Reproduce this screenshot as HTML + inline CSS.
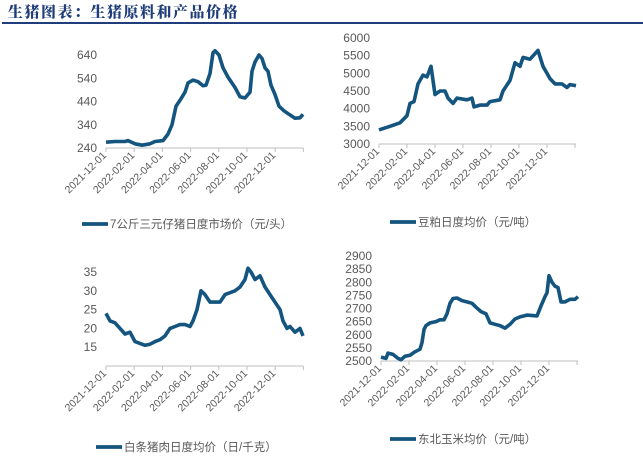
<!DOCTYPE html>
<html><head><meta charset="utf-8"><style>
body{margin:0;background:#fff;width:643px;height:456px;overflow:hidden}
svg text{font-family:"Liberation Sans","Noto Sans CJK SC",sans-serif;fill:#595959}
</style></head><body>
<svg id="s" width="643" height="456" xmlns="http://www.w3.org/2000/svg">
<text x="8" y="17" style="font-family:'Noto Serif CJK SC','Noto Sans CJK SC',serif;font-size:15px;font-weight:900;fill:#1f3d7a;letter-spacing:1.5px">生猪图表：生猪原料和产品价格</text>
<rect x="2" y="22" width="641" height="2" fill="#1f3d7a"/>
</svg>
<script>
const S=document.getElementById('s'),NS='http://www.w3.org/2000/svg';
function el(t,a,txt){const e=document.createElementNS(NS,t);for(const k in a)e.setAttribute(k,a[k]);if(txt)e.textContent=txt;S.appendChild(e);return e;}
function chart(c){
 const {x0,x1,y0,ybot,v0,vtop,ytop,labels,t0,dt,pts,legY,legX,leg,lx}=c;
 const Y=v=>ybot+(v-v0)*(ytop-ybot)/(vtop-v0);
 el('line',{x1:x0,x2:x1,y1:ybot,y2:ybot,stroke:'#bfbfbf','stroke-width':1});
 labels.forEach(v=>el('text',{x:lx,y:Y(v)+4,'font-size':12,'text-anchor':'end'},String(v)));
 const d=['2021-12-01','2022-02-01','2022-04-01','2022-06-01','2022-08-01','2022-10-01','2022-12-01'];
 for(let i=0;i<8;i++){const x=t0+i*dt;if(x>x1+1)break;el('line',{x1:x,x2:x,y1:ybot,y2:ybot+4,stroke:'#bfbfbf'});}
 d.forEach((s,i)=>{const x=t0+i*dt;el('text',{x:x+1,y:ybot+8,'font-size':10.5,'text-anchor':'end',transform:`rotate(-45 ${x+1} ${ybot+8})`},s);});
 el('path',{d:'M'+pts.map(p=>p[0]+','+Y(p[1]).toFixed(1)).join('L'),fill:'none',stroke:'#14557f','stroke-width':3.6,'stroke-linejoin':'round'});
 el('line',{x1:legX,x2:legX+26,y1:legY,y2:legY,stroke:'#14557f','stroke-width':3.8});
 el('text',{x:legX+28,y:legY+4,'font-size':11.5},leg);
}
chart({x0:106,x1:303,ybot:148,v0:240,ytop:55,vtop:640,lx:97,labels:[240,340,440,540,640],t0:106,dt:28.2,legX:82,legY:224,leg:'7公斤三元仔猪日度市场价（元/头）',
pts:[[106,265],[115,268],[125,268],[128,272],[135,258],[142,252],[150,258],[155,268],[163,272],[168,300],[172,340],[176,420],[180,445],[185,480],[188,520],[193,532],[198,525],[203,508],[206,510],[210,560],[213,650],[215,658],[219,640],[223,585],[228,545],[235,500],[240,460],[245,455],[250,480],[252,570],[255,610],[259,640],[262,625],[265,585],[268,570],[271,510],[275,470],[279,420],[284,400],[289,385],[295,368],[300,370],[303,385]]});
chart({x0:379,x1:576,ybot:144,v0:3000,ytop:38,vtop:6000,lx:370,labels:[3000,3500,4000,4500,5000,5500,6000],t0:379,dt:28,legX:390,legY:222,leg:'豆粕日度均价（元/吨）',
pts:[[379,3400],[390,3500],[400,3600],[407,3800],[410,4150],[414,4200],[418,4700],[423,4950],[427,4900],[431,5200],[435,4400],[440,4500],[445,4500],[448,4300],[453,4150],[457,4300],[467,4250],[472,4300],[474,4050],[480,4100],[487,4100],[490,4200],[500,4250],[503,4500],[510,4800],[515,5300],[520,5200],[523,5450],[530,5400],[538,5650],[543,5200],[550,4850],[555,4700],[562,4700],[567,4600],[570,4680],[576,4650]]});
chart({x0:106,x1:303,ybot:366,v0:10,ytop:272,vtop:35,lx:97,labels:[15,20,25,30,35],t0:106,dt:28.2,legX:96,legY:447,leg:'白条猪肉日度均价（日/千克）',
pts:[[106,24],[110,22],[115,21.5],[120,20],[125,18.5],[130,19],[135,16.5],[140,16],[145,15.5],[150,15.8],[155,16.5],[160,17],[165,18],[170,20],[175,20.5],[180,21],[185,21],[190,20.5],[193,22],[197,25],[201,30],[205,29],[210,27],[215,27],[220,27],[225,29],[230,29.5],[235,30],[240,31],[245,33],[248,36],[251,35],[255,33],[260,34],[265,31],[270,29],[275,27],[280,25],[283,22],[287,20],[290,20.5],[295,19],[300,20],[303,18]]});
chart({x0:381,x1:578,ybot:361,v0:2500,ytop:256,vtop:2900,lx:372,labels:[2500,2550,2600,2650,2700,2750,2800,2850,2900],t0:381,dt:28,legX:390,legY:439,leg:'东北玉米均价（元/吨）',
pts:[[381,2515],[386,2510],[388,2530],[393,2525],[398,2510],[401,2505],[405,2518],[410,2522],[415,2535],[420,2545],[422,2570],[424,2620],[426,2635],[430,2645],[436,2650],[440,2657],[444,2657],[447,2680],[450,2720],[453,2738],[457,2740],[462,2730],[467,2725],[472,2720],[476,2705],[481,2688],[486,2680],[490,2645],[495,2640],[500,2635],[505,2625],[510,2640],[515,2660],[520,2668],[527,2675],[537,2672],[541,2710],[545,2745],[547,2760],[549,2825],[552,2800],[555,2785],[558,2780],[561,2725],[565,2725],[570,2735],[575,2735],[578,2745]]});
</script>
</body></html>
